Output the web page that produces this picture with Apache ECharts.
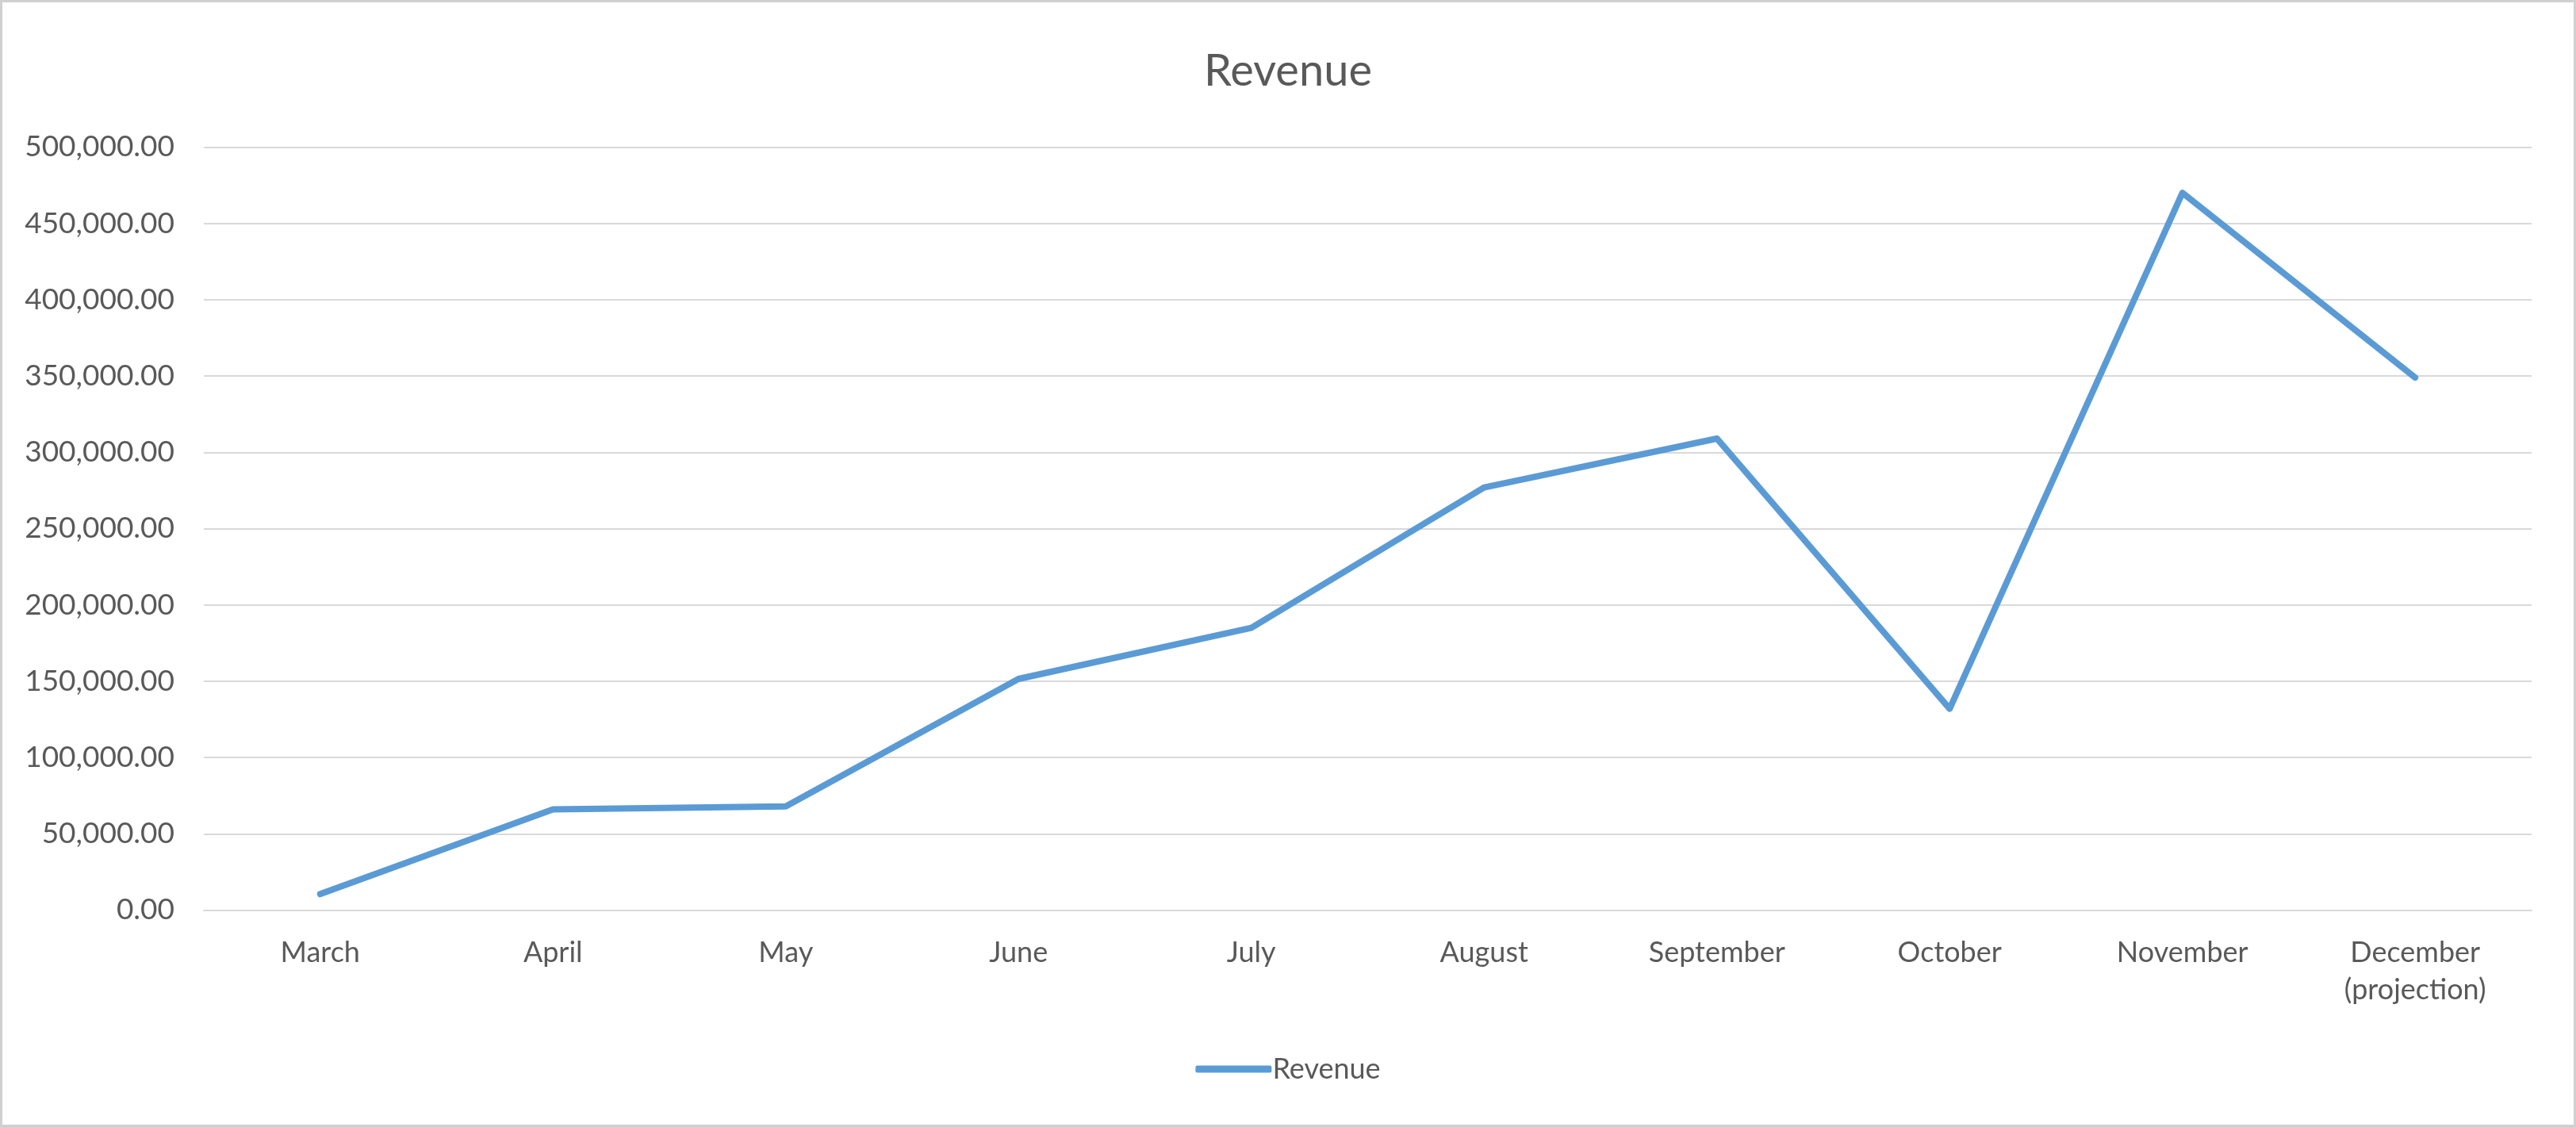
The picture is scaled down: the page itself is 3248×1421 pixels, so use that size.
<!DOCTYPE html>
<html>
<head>
<meta charset="utf-8">
<title>Revenue</title>
<script src="https://cdn.jsdelivr.net/npm/echarts@6/dist/echarts.min.js"></script>
<style>
  html, body { margin: 0; padding: 0; background: #ffffff; }
  #chart { width: 3248px; height: 1421px; }
</style>
</head>
<body>
<div id="chart"></div>
<script>
// Monthly revenue, with December as a projection
const months = ['March', 'April', 'May', 'June', 'July', 'August', 'September', 'October', 'November', 'December\n(projection)'];
const revenue = [10500, 66000, 68000, 151500, 185000, 277000, 309000, 132000, 470000, 349000];

// Value axis range
const yMin = 0;
const yMax = 500000;
const yStep = 50000;

const textColor = '#595959';
const gridColor = '#D9D9D9';
const lineColor = '#5B9BD5';
const fontFamily = 'Lato, "Noto Sans", sans-serif';

const chart = echarts.init(document.getElementById('chart'), null, { renderer: 'canvas' });

chart.setOption({
  backgroundColor: '#ffffff',
  animation: false,
  textStyle: { fontFamily: fontFamily },
  graphic: [{
    type: 'rect',
    silent: true,
    z: 100,
    shape: { x: 1.5, y: 1.5, width: 3245, height: 1418 },
    style: { fill: 'none', stroke: '#D0D0D0', lineWidth: 3 }
  }],
  title: {
    text: 'Revenue',
    left: 'center',
    top: 57,
    textStyle: { fontFamily: fontFamily, fontSize: 56, fontWeight: 'normal', color: textColor }
  },
  legend: {
    data: [{ name: 'Revenue', icon: 'roundRect' }],
    left: 'center',
    top: 1325,
    itemWidth: 96,
    itemHeight: 9,
    itemGap: 10,
    itemStyle: { color: lineColor, borderWidth: 0 },
    textStyle: { fontFamily: fontFamily, fontSize: 36, color: textColor, padding: [0, 0, 0, -4] }
  },
  grid: {
    left: 257,
    right: 56,
    top: 185.5,
    bottom: 273.5,
    containLabel: false
  },
  xAxis: {
    type: 'category',
    data: months,
    boundaryGap: true,
    axisTick: { show: false },
    axisLine: { lineStyle: { color: gridColor, width: 2 } },
    axisLabel: {
      interval: 0,
      margin: 30,
      fontFamily: fontFamily,
      fontSize: 36,
      lineHeight: 47,
      color: textColor
    }
  },
  yAxis: {
    type: 'value',
    min: yMin,
    max: yMax,
    interval: yStep,
    axisLine: { show: false },
    axisTick: { show: false },
    splitLine: { lineStyle: { color: gridColor, width: 2 } },
    axisLabel: {
      margin: 37,
      fontFamily: fontFamily,
      fontSize: 37,
      color: textColor,
      formatter: function (v) {
        return v.toLocaleString('en-US', { minimumFractionDigits: 2, maximumFractionDigits: 2 });
      }
    }
  },
  series: [{
    name: 'Revenue',
    type: 'line',
    data: revenue,
    symbol: 'none',
    itemStyle: { color: lineColor },
    lineStyle: { color: lineColor, width: 8, cap: 'round', join: 'round' }
  }]
});
</script>
</body>
</html>
